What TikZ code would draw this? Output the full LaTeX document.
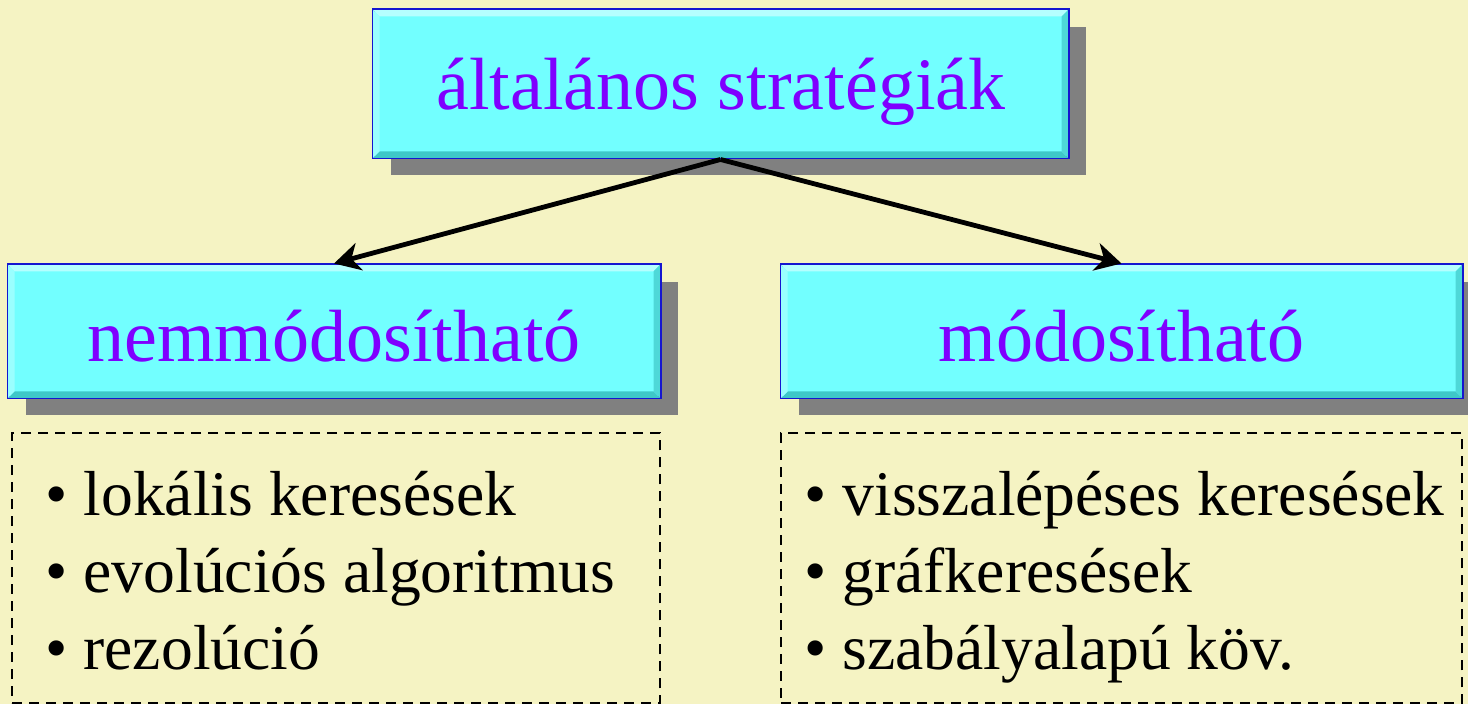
\documentclass[tikz,border=0pt]{standalone}
\usepackage{fontspec}
\setmainfont{Liberation Serif}
\usetikzlibrary{shadows,arrows.meta}
\definecolor{bg}{HTML}{F5F3C3}
\definecolor{boxfill}{HTML}{72FFFF}
\definecolor{boxedge}{HTML}{1515D0}
\definecolor{txt}{HTML}{7F00FF}
\definecolor{bevlight}{HTML}{B5FFFF}
\definecolor{bevdark}{HTML}{3EC8C8}
\tikzset{
  catbox/.style={draw=boxedge, line width=1.5pt, fill=boxfill, inner sep=0pt,
    drop shadow={shadow xshift=9pt, shadow yshift=-8.5pt, fill=black!50, opacity=1},
    text=txt, font=\fontsize{37}{40}\selectfont},
  catlabel/.style={text=txt, font=\fontsize{37}{40}\selectfont, inner sep=0pt},
  listbox/.style={draw=black, line width=1pt, dash pattern=on 5pt off 3.5pt, inner sep=0pt},
  listtext/.style={anchor=north west, align=left, inner sep=0pt, font=\fontsize{31.8}{38.5}\selectfont},
  conn/.style={line width=2.4pt, -{Stealth[length=13pt,width=14pt,inset=4pt]}}
}
\newcommand\bevelbox[1]{%
  \fill[bevlight] ([shift={(0.8pt,-0.8pt)}]#1.north west) -- ([shift={(-0.8pt,-0.8pt)}]#1.north east) -- ([shift={(-4pt,-4pt)}]#1.north east) -- ([shift={(4pt,-4pt)}]#1.north west) -- cycle;
  \fill[bevdark] ([shift={(0.8pt,0.8pt)}]#1.south west) -- ([shift={(-0.8pt,0.8pt)}]#1.south east) -- ([shift={(-4pt,4pt)}]#1.south east) -- ([shift={(4pt,4pt)}]#1.south west) -- cycle;
  \fill[bevdark!70!boxfill] ([shift={(-0.8pt,-0.8pt)}]#1.north east) -- ([shift={(-0.8pt,0.8pt)}]#1.south east) -- ([shift={(-4pt,4pt)}]#1.south east) -- ([shift={(-4pt,-4pt)}]#1.north east) -- cycle;
  \fill[bevlight!60!boxfill] ([shift={(0.8pt,-0.8pt)}]#1.north west) -- ([shift={(0.8pt,0.8pt)}]#1.south west) -- ([shift={(4pt,4pt)}]#1.south west) -- ([shift={(4pt,-4pt)}]#1.north west) -- cycle;
}
\begin{document}
\begin{tikzpicture}[x=0.5pt,y=-0.5pt]
\fill[bg] (0,0) rectangle (1468,704);
\useasboundingbox (0,0) rectangle (1468,704);
% top
\node[catbox, minimum width=347.5pt, minimum height=74pt] (top) at (720.5,84) {};
\bevelbox{top}
\node[catlabel] (toplbl) at (721,92) {általános stratégiák};
% left
\node[catbox, minimum width=326pt, minimum height=66.5pt] (left) at (334,331.5) {};
\bevelbox{left}
\node[catlabel] (leftlbl) at (334,336) {nemmódosítható};
% right
\node[catbox, minimum width=340.5pt, minimum height=66.5pt] (right) at (1121.5,331.5) {};
\bevelbox{right}
\node[catlabel] (rightlbl) at (1121.5,336) {módosítható};
% connectors
\draw[conn] (top.south) -- (left.north);
\draw[conn] (top.south) -- (right.north);
% lists
\node[listbox, minimum width=324pt, minimum height=135pt] (llist) at (336,568.5) {};
\node[listbox, minimum width=340.5pt, minimum height=135pt] (rlist) at (1121.5,568.5) {};
\node[listtext] (ltext) at (45,471) {• lokális keresések\\• evolúciós algoritmus\\• rezolúció};
\node[listtext] (rtext) at (804,471) {• visszalépéses keresések\\• gráfkeresések\\• szabályalapú köv.};
\end{tikzpicture}
\end{document}
